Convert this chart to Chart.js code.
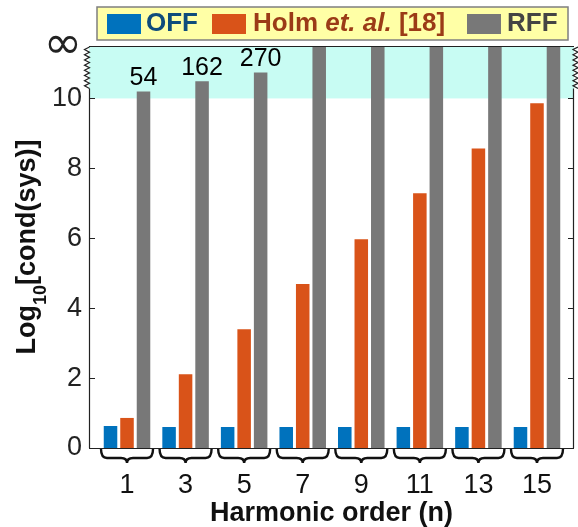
<!DOCTYPE html>
<html>
<head>
<meta charset="utf-8">
<script src="https://cdn.jsdelivr.net/npm/chart.js@4.4.1/dist/chart.umd.min.js"></script>
<style>
    html, body { margin: 0; padding: 0; background: #fff; }
</style>
</head>
<body>
<canvas id="canvas-chart" width="578" height="527"></canvas>
<script>
// data
var harmonics = ['1', '3', '5', '7', '9', '11', '13', '15'];
var offValues = [0.63, 0.6, 0.6, 0.6, 0.6, 0.6, 0.6, 0.6];
var holmValues = [0.86, 2.11, 3.4, 4.69, 5.97, 7.29, 8.57, 9.86];
var INF = 11.5; // top of the axis stands for infinity
var rffValues = [10.2, 10.49, 10.74, INF, INF, INF, INF, INF];
var rffLabels = ['54', '162', '270', '', '', '', '', ''];
var yTicks = [0, 2, 4, 6, 8, 10, INF];

var FONT = '"Liberation Sans", Arial, Helvetica, sans-serif';
var BLUE = '#0072BD', ORANGE = '#D95319', GRAY = '#787878';

function points(values) {
    return values.map(function (v, i) {
        return { x: i + 1, y: v };
    });
}

function zigzag(ctx, x, yTop, yBot, amp) {
    var n = 8;
    var step = (yBot - yTop) / n;
    ctx.beginPath();
    ctx.moveTo(x, yTop);
    for (var i = 0; i < n; i++) {
        ctx.lineTo(x - amp, yTop + step * (i + 0.5));
        ctx.lineTo(x, yTop + step * (i + 1));
    }
    ctx.stroke();
}

var decor = {
    id: 'decor',

    beforeDatasetsDraw: function (chart) {
        var ctx = chart.ctx;
        var a = chart.chartArea;
        var y10 = chart.scales.y.getPixelForValue(10);
        ctx.save();
        ctx.fillStyle = '#C8FCF3';
        ctx.fillRect(a.left, a.top, a.right - a.left, y10 - a.top);
        ctx.restore();
    },

    afterDraw: function (chart) {
        var ctx = chart.ctx;
        var a = chart.chartArea;
        var xs = chart.scales.x;
        var ys = chart.scales.y;
        var y10 = ys.getPixelForValue(10);
        var zzEnd = y10 - 10;

        ctx.save();
        ctx.strokeStyle = '#222';
        ctx.lineWidth = 1.2;

        // box
        ctx.beginPath();
        ctx.moveTo(a.left, a.top + 0.5); ctx.lineTo(a.right, a.top + 0.5);
        ctx.moveTo(a.left, a.bottom + 0.5); ctx.lineTo(a.right, a.bottom + 0.5);
        ctx.moveTo(a.left + 0.5, a.bottom); ctx.lineTo(a.left + 0.5, zzEnd);
        ctx.moveTo(a.right - 0.5, a.bottom); ctx.lineTo(a.right - 0.5, zzEnd);
        ctx.stroke();

        // broken axis
        zigzag(ctx, a.left + 0.5, a.top + 1, zzEnd, 5);
        zigzag(ctx, a.right + 4, a.top + 1, zzEnd, 5);

        // inward ticks
        ctx.beginPath();
        yTicks.forEach(function (v) {
            if (v > 10) return;
            var y = Math.round(ys.getPixelForValue(v)) + 0.5;
            ctx.moveTo(a.left, y); ctx.lineTo(a.left + 6, y);
            ctx.moveTo(a.right, y); ctx.lineTo(a.right - 6, y);
        });
        ctx.stroke();

        // braces under each group
        ctx.lineWidth = 2.4;
        ctx.strokeStyle = '#111';
        var y0 = a.bottom + 1, y1 = a.bottom + 10, y2 = a.bottom + 15;
        harmonics.forEach(function (h, i) {
            var c = xs.getPixelForValue(i + 1);
            var w = 26;
            ctx.beginPath();
            ctx.moveTo(c - w, y0);
            ctx.quadraticCurveTo(c - w, y1, c - w + 6, y1);
            ctx.lineTo(c - 6, y1);
            ctx.quadraticCurveTo(c, y1, c, y2);
            ctx.quadraticCurveTo(c, y1, c + 6, y1);
            ctx.lineTo(c + w - 6, y1);
            ctx.quadraticCurveTo(c + w, y1, c + w, y0);
            ctx.stroke();
        });

        // labels over the first RFF bars
        var meta = chart.getDatasetMeta(2);
        ctx.fillStyle = '#000';
        ctx.font = '25px ' + FONT;
        ctx.textAlign = 'center';
        ctx.textBaseline = 'bottom';
        rffLabels.forEach(function (t, i) {
            if (!t) return;
            var el = meta.data[i];
            ctx.fillText(t, el.x, el.y - 1);
        });

        // y title with subscript
        ctx.fillStyle = '#111';
        ctx.textAlign = 'left';
        ctx.textBaseline = 'alphabetic';
        var big = 'bold 27px ' + FONT, small = 'bold 18px ' + FONT;
        ctx.font = big;
        var w1 = ctx.measureText('Log').width;
        var w3 = ctx.measureText('[cond(sys)]').width;
        ctx.font = small;
        var w2 = ctx.measureText('10').width;
        var total = w1 + w2 + w3;
        ctx.translate(35, (a.top + a.bottom) / 2 + 0);
        ctx.rotate(-Math.PI / 2);
        var x = -total / 2;
        ctx.font = big;
        ctx.fillText('Log', x, 0);
        ctx.font = small;
        ctx.fillText('10', x + w1, 11);
        ctx.font = big;
        ctx.fillText('[cond(sys)]', x + w1 + w2, 0);
        ctx.restore();

        // legend
        ctx.save();
        ctx.fillStyle = '#FFFFA6';
        ctx.strokeStyle = '#7f7f7f';
        ctx.lineWidth = 1.5;
        ctx.fillRect(97, 7, 471, 33);
        ctx.strokeRect(97, 7, 471, 33);
        ctx.textBaseline = 'middle';
        var ly = 24;

        ctx.fillStyle = BLUE;
        ctx.fillRect(107, 14, 34, 20);
        ctx.fillStyle = '#0E4C7C';
        ctx.font = 'bold 26px ' + FONT;
        ctx.fillText('OFF', 146, ly);

        ctx.fillStyle = ORANGE;
        ctx.fillRect(212, 14, 34, 20);
        ctx.fillStyle = '#9B3B17';
        var lx = 253;
        ctx.font = 'bold 26px ' + FONT;
        ctx.fillText('Holm ', lx, ly);
        lx += ctx.measureText('Holm ').width;
        ctx.font = 'italic bold 26px ' + FONT;
        ctx.fillText('et. al.', lx, ly);
        lx += ctx.measureText('et. al.').width;
        ctx.font = 'bold 26px ' + FONT;
        ctx.fillText(' [18]', lx, ly);

        ctx.fillStyle = GRAY;
        ctx.fillRect(467, 14, 34, 20);
        ctx.fillStyle = '#444';
        ctx.fillText('RFF', 507, ly);
        ctx.restore();
    }
};

var chart = new Chart(document.getElementById('canvas-chart').getContext('2d'), {
    type: 'bar',
    data: {
        datasets: [
            { label: 'OFF', data: points(offValues), backgroundColor: BLUE },
            { label: 'Holm et. al. [18]', data: points(holmValues), backgroundColor: ORANGE },
            { label: 'RFF', data: points(rffValues), backgroundColor: GRAY },
        ],
    },
    options: {
        responsive: false,
        animation: false,
        devicePixelRatio: 1,
        categoryPercentage: 0.845,
        barPercentage: 0.82,
        layout: { padding: { top: 46, right: 4, left: 0, bottom: 0 } },
        plugins: { legend: { display: false }, tooltip: { enabled: false } },
        scales: {
            x: {
                type: 'linear',
                offset: false,
                min: 0.351,
                max: 8.632,
                grid: { display: false, drawTicks: false, offset: false },
                border: { display: false },
                afterBuildTicks: function (s) {
                    s.ticks = harmonics.map(function (h, i) { return { value: i + 1 }; });
                },
                afterFit: function (s) { s.height = 79; },
                ticks: {
                    autoSkip: false,
                    maxRotation: 0,
                    padding: 21,
                    color: '#111',
                    font: { size: 27, family: FONT },
                    callback: function (v) { return harmonics[v - 1]; },
                },
                title: {
                    display: true,
                    text: 'Harmonic order (n)',
                    color: '#111',
                    padding: { top: 0, bottom: -3 },
                    font: { size: 27, weight: 'bold', family: FONT },
                },
            },
            y: {
                min: 0,
                max: INF,
                grid: { display: false, drawTicks: false },
                border: { display: false },
                afterBuildTicks: function (s) {
                    s.ticks = yTicks.map(function (v) { return { value: v }; });
                },
                afterFit: function (s) { s.width = 89; },
                ticks: {
                    padding: 7,
                    color: '#222',
                    font: function (c) {
                        if (c.tick && c.tick.value === INF) {
                            return { size: 46, family: '"DejaVu Sans", sans-serif' };
                        }
                        return { size: 27, family: FONT };
                    },
                    callback: function (v) { return v === INF ? '\u221E' : String(v); },
                },
            },
        },
    },
    plugins: [decor],
});
</script>
</body>
</html>
